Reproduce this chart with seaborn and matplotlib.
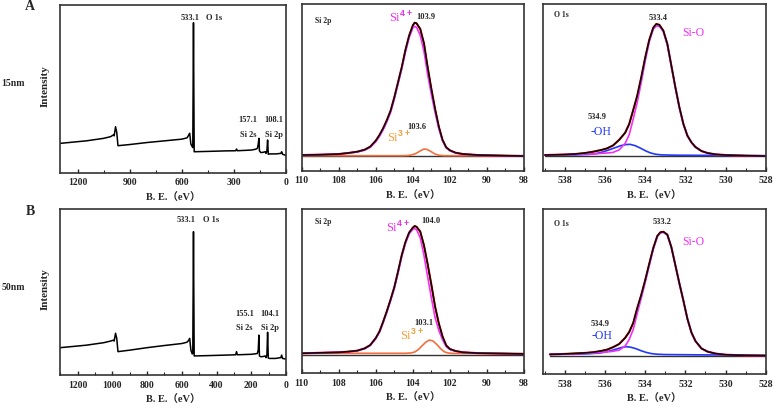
import matplotlib
matplotlib.use("Agg")
import matplotlib.pyplot as plt
import seaborn as sns
from matplotlib.ticker import MultipleLocator

sns.set_style("ticks")
plt.rcParams['font.family'] = ['Liberation Serif', 'Noto Sans CJK SC']
plt.rcParams['font.weight'] = 'bold'
plt.rcParams['mathtext.fontset'] = 'custom'
plt.rcParams['mathtext.rm'] = 'Liberation Sans'
plt.rcParams['mathtext.default'] = 'rm'

# ---------------- data (arbitrary intensity 0..1) ----------------
# survey spectra
survey_ev = [1300, 1150, 1050, 1010, 995, 990, 982, 975, 968, 900, 800, 700, 600, 570, 560, 555,
             548, 540, 537, 533, 529, 450, 350, 290, 285, 280, 200, 175, 165, 160, 156, 153,
             145, 130, 120, 115, 110, 106, 102, 95, 60, 30, 25, 20, 5, 0]
survey_15 = [0.175, 0.19, 0.205, 0.215, 0.225, 0.22, 0.274, 0.24, 0.161, 0.168, 0.18, 0.19, 0.2,
             0.208, 0.225, 0.235, 0.17, 0.155, 0.15, 0.894, 0.125, 0.127, 0.13, 0.131, 0.141,
             0.131, 0.135, 0.14, 0.145, 0.17, 0.205, 0.13, 0.12, 0.122, 0.125, 0.115, 0.13,
             0.195, 0.11, 0.112, 0.112, 0.115, 0.125, 0.11, 0.105, 0.1]
survey_50 = [0.165, 0.18, 0.195, 0.205, 0.21, 0.205, 0.252, 0.22, 0.141, 0.15, 0.165, 0.178, 0.19,
             0.198, 0.21, 0.221, 0.15, 0.127, 0.13, 0.865, 0.115, 0.117, 0.12, 0.122, 0.141,
             0.122, 0.125, 0.128, 0.13, 0.15, 0.241, 0.115, 0.11, 0.112, 0.115, 0.105, 0.12,
             0.258, 0.102, 0.1, 0.1, 0.105, 0.12, 0.1, 0.097, 0.095]

# Si 2p high resolution
si_ev = [110, 109, 108, 107.5, 107, 106.6, 106.3, 106.0, 105.8, 105.6, 105.4, 105.2, 105.0,
         104.8, 104.6, 104.4, 104.2, 104.0, 103.9, 103.8, 103.6, 103.4, 103.2, 103.0, 102.8,
         102.6, 102.4, 102.2, 102.0, 101.7, 101.3, 100.5, 99, 98]
si_env_15 = [0.094, 0.096, 0.1, 0.106, 0.114, 0.126, 0.144, 0.18, 0.214, 0.255, 0.304, 0.36,
             0.44, 0.53, 0.62, 0.724, 0.81, 0.872, 0.888, 0.884, 0.85, 0.764, 0.62, 0.49, 0.37,
             0.265, 0.185, 0.14, 0.122, 0.108, 0.1, 0.094, 0.09, 0.088]
si4_15 = [0.094, 0.096, 0.1, 0.105, 0.112, 0.123, 0.14, 0.174, 0.206, 0.246, 0.294, 0.35,
          0.43, 0.52, 0.61, 0.712, 0.798, 0.856, 0.866, 0.86, 0.812, 0.716, 0.576, 0.457, 0.35,
          0.253, 0.18, 0.137, 0.12, 0.106, 0.099, 0.093, 0.09, 0.088]
si3_ev_15 = [110, 104.6, 104.3, 104.1, 103.9, 103.7, 103.55, 103.4, 103.25, 103.1, 102.95, 102.8,
             102.6, 102.3, 98]
si3_15 = [0.09, 0.09, 0.091, 0.094, 0.1, 0.112, 0.122, 0.13, 0.128, 0.12, 0.11, 0.1, 0.093,
          0.09, 0.09]

si_env_50 = [0.122, 0.125, 0.128, 0.132, 0.138, 0.152, 0.172, 0.215, 0.255, 0.315, 0.38, 0.45,
             0.525, 0.62, 0.72, 0.8, 0.858, 0.888, 0.898, 0.893, 0.864, 0.78, 0.665, 0.54, 0.407,
             0.305, 0.225, 0.17, 0.148, 0.136, 0.128, 0.123, 0.12, 0.118]
si4_50 = [0.122, 0.125, 0.128, 0.131, 0.137, 0.15, 0.17, 0.212, 0.251, 0.31, 0.374, 0.444,
          0.518, 0.612, 0.712, 0.792, 0.85, 0.878, 0.882, 0.876, 0.826, 0.72, 0.588, 0.46, 0.34,
          0.262, 0.205, 0.163, 0.145, 0.135, 0.127, 0.123, 0.12, 0.118]
si3_ev_50 = [110, 104.4, 104.1, 103.9, 103.7, 103.5, 103.3, 103.1, 102.9, 102.7, 102.5, 102.3,
             102.1, 101.8, 98]
si3_50 = [0.122, 0.122, 0.124, 0.13, 0.145, 0.168, 0.19, 0.203, 0.196, 0.175, 0.15, 0.131,
          0.124, 0.121, 0.12]

# O 1s high resolution
o_ev_15 = [539, 538, 537.5, 537, 536.6, 536.2, 535.9, 535.6, 535.3, 535.0, 534.8, 534.6, 534.4,
           534.2, 534.0, 533.8, 533.6, 533.45, 533.3, 533.1, 532.9, 532.7, 532.5, 532.3, 532.1,
           531.9, 531.7, 531.5, 531.2, 530.9, 530.5, 530, 529, 528]
o_env_15 = [0.094, 0.097, 0.1, 0.106, 0.114, 0.124, 0.134, 0.152, 0.185, 0.228, 0.28, 0.364,
            0.45, 0.56, 0.68, 0.785, 0.858, 0.88, 0.875, 0.84, 0.76, 0.63, 0.5, 0.38, 0.28,
            0.21, 0.17, 0.142, 0.118, 0.106, 0.098, 0.094, 0.09, 0.088]
sio_15 = [0.094, 0.096, 0.098, 0.1, 0.1, 0.104, 0.106, 0.11, 0.125, 0.164, 0.216, 0.31, 0.41,
          0.53, 0.66, 0.775, 0.85, 0.868, 0.866, 0.835, 0.756, 0.627, 0.498, 0.378, 0.279,
          0.209, 0.169, 0.141, 0.117, 0.105, 0.097, 0.094, 0.09, 0.088]
oh_ev_15 = [539, 537.5, 536.8, 536.4, 536.1, 535.8, 535.5, 535.2, 534.95, 534.75, 534.5, 534.25,
            534.0, 533.75, 533.5, 533.2, 532.5, 528]
oh_15 = [0.094, 0.095, 0.098, 0.104, 0.113, 0.125, 0.138, 0.151, 0.157, 0.158, 0.15, 0.136,
         0.12, 0.107, 0.099, 0.095, 0.093, 0.09]

o_ev_50 = [538.75, 538, 537.5, 537, 536.6, 536.2, 535.9, 535.6, 535.3, 535.0, 534.8, 534.6,
           534.4, 534.2, 534.0, 533.8, 533.6, 533.4, 533.25, 533.1, 532.9, 532.7, 532.5, 532.3,
           532.1, 531.9, 531.7, 531.5, 531.2, 530.9, 530.5, 530, 529, 528]
o_env_50 = [0.119, 0.122, 0.125, 0.128, 0.132, 0.14, 0.148, 0.163, 0.182, 0.22, 0.255, 0.31,
            0.4, 0.48, 0.571, 0.67, 0.765, 0.838, 0.86, 0.864, 0.846, 0.77, 0.66, 0.55, 0.445,
            0.335, 0.252, 0.2, 0.155, 0.136, 0.124, 0.117, 0.113, 0.111]
sio_50 = [0.119, 0.121, 0.123, 0.125, 0.127, 0.131, 0.134, 0.138, 0.145, 0.17, 0.21, 0.27,
          0.368, 0.46, 0.558, 0.66, 0.758, 0.834, 0.856, 0.86, 0.844, 0.77, 0.66, 0.55, 0.445,
          0.335, 0.252, 0.2, 0.155, 0.136, 0.124, 0.117, 0.113, 0.111]
oh_ev_50 = [538.75, 537.5, 536.8, 536.3, 536.0, 535.7, 535.4, 535.15, 534.93, 534.7, 534.45,
            534.2, 533.95, 533.7, 533.4, 533.0, 531, 528]
oh_50 = [0.119, 0.12, 0.123, 0.127, 0.133, 0.142, 0.153, 0.162, 0.166, 0.162, 0.153, 0.141,
         0.131, 0.124, 0.12, 0.118, 0.116, 0.114]

bg_15 = [0.086, 0.086]
bg_50 = [0.112, 0.112]

MAG = '#F032F0'
ORG = '#F26F3E'
ORG_T = '#F0A03C'
BLU = '#2238F5'

W, H = 774, 411
fig = plt.figure(figsize=(W / 100, H / 100), dpi=100)


def add_ax(x0, x1, y0, y1):
    ax = fig.add_axes([x0 / W, 1 - y1 / H, (x1 - x0) / W, (y1 - y0) / H])
    for s in ax.spines.values():
        s.set_linewidth(1.2)
        s.set_color('#333333')
    ax.set_ylim(0, 1)
    ax.set_yticks([])
    ax.tick_params(axis='x', direction='in', length=3, width=1, labelsize=7, pad=4)
    ax.tick_params(axis='x', which='minor', direction='in', length=2, width=0.8)
    return ax


def line(ax, x, y, color, lw=1.3):
    sns.lineplot(x=x, y=y, ax=ax, color=color, lw=lw, estimator=None, legend=False)


def xlab(ax):
    ax.set_xlabel('B. E.（eV）', fontsize=7.5, fontweight='bold', labelpad=4)
    ax.set_ylabel('')


def txt(ax, x, y, s, **kw):
    kw.setdefault('fontsize', 6)
    kw.setdefault('fontweight', 'bold')
    ax.text(x, y, s, transform=ax.transData, ha='center', va='center', **kw)


rows = [
    dict(y0=5, y1=172.7, ym0=4, ym1=170.7, yr1=170.7, survey=survey_15, tickstep=300,
         si=(si_ev, si_env_15, si4_15, si3_ev_15, si3_15, bg_15),
         o=(o_ev_15, o_env_15, sio_15, oh_ev_15, oh_15, bg_15),
         tag='A', size='15nm', labs=('157.1', '108.1', '103.9', '103.6', '533.4')),
    dict(y0=209.3, y1=375, ym0=209.3, ym1=373.3, yr1=374, survey=survey_50, tickstep=200,
         si=(si_ev, si_env_50, si4_50, si3_ev_50, si3_50, bg_50),
         o=(o_ev_50, o_env_50, sio_50, oh_ev_50, oh_50, bg_50),
         tag='B', size='50nm', labs=('155.1', '104.1', '104.0', '103.1', '533.2')),
]

for i, r in enumerate(rows):
    # survey
    ax = add_ax(60, 286, r['y0'], r['y1'])
    line(ax, survey_ev, r['survey'], 'black', 1.1)
    ax.set_xlim(1302, 0)
    ax.xaxis.set_major_locator(MultipleLocator(r['tickstep']))
    ax.xaxis.set_minor_locator(MultipleLocator(r['tickstep'] / 2))
    xlab(ax)
    if i == 0:
        txt(ax, 553, 0.92, '533.1')
        txt(ax, 415, 0.92, 'O 1s')
        txt(ax, 218, 0.314, r['labs'][0])
        txt(ax, 218, 0.225, 'Si 2s')
        txt(ax, 68, 0.314, r['labs'][1])
        txt(ax, 68, 0.225, 'Si 2p')
    else:
        txt(ax, 573, 0.935, '533.1')
        txt(ax, 434, 0.935, 'O 1s')
        txt(ax, 240, 0.368, r['labs'][0])
        txt(ax, 240, 0.284, 'Si 2s')
        txt(ax, 90, 0.368, r['labs'][1])
        txt(ax, 90, 0.284, 'Si 2p')
    mid_y = 1 - ((r['y0'] + r['y1']) / 2 - 3) / H
    fig.text(45 / W, mid_y, 'Intensity', rotation=90, fontsize=8, fontweight='bold',
             ha='center', va='center')
    fig.text(30 / W, 1 - (r['y0'] + 2) / H, r['tag'], fontsize=10, fontweight='bold',
             ha='center', va='center')
    fig.text(13 / W, 1 - (r['y0'] + 78) / H, r['size'], fontsize=7, fontweight='bold',
             ha='center', va='center')

    # Si 2p
    ev, env, s4, ev3, s3, bg = r['si']
    ax = add_ax(301.7, 524, r['ym0'], r['ym1'])
    line(ax, [110, 98], bg, '#333333', 1.0)
    line(ax, ev3, s3, ORG, 1.2)
    line(ax, ev, env, 'red', 1.5)
    line(ax, ev, s4, MAG, 1.2)
    line(ax, ev, env, 'black', 1.1)
    ax.set_xlim(110, 98)
    ax.set_xticks([110, 108, 106, 104, 102, 100, 98])
    ax.set_xticklabels(['110', '108', '106', '104', '102', '90', '98'])
    ax.xaxis.set_minor_locator(MultipleLocator(1))
    xlab(ax)
    txt(ax, 108.85, 0.9 if i == 0 else 0.925, 'Si 2p', fontsize=5.5)
    if i == 0:
        txt(ax, 104.64, 0.92, 'Si$^{4+}$', color=MAG, fontsize=9, fontweight='normal')
        txt(ax, 103.29, 0.92, r['labs'][2])
        txt(ax, 104.75, 0.2, 'Si$^{3+}$', color=ORG_T, fontsize=9, fontweight='normal')
        txt(ax, 103.78, 0.262, r['labs'][3])
    else:
        txt(ax, 104.8, 0.892, 'Si$^{4+}$', color=MAG, fontsize=9, fontweight='normal')
        txt(ax, 103.02, 0.929, r['labs'][2])
        txt(ax, 103.4, 0.307, r['labs'][3])
        txt(ax, 104.05, 0.234, 'Si$^{3+}$', color=ORG_T, fontsize=9, fontweight='normal')

    # O 1s
    ev, env, so, evh, oh, bg = r['o']
    ax = add_ax(543.3, 765.7, r['ym0'], r['yr1'])
    line(ax, [ev[0], 528], bg, '#333333', 1.0)
    line(ax, evh, oh, BLU, 1.2)
    line(ax, ev, env, 'red', 1.5)
    line(ax, ev, so, MAG, 1.2)
    line(ax, ev, env, 'black', 1.1)
    ax.set_xlim(539.08, 528)
    ax.xaxis.set_major_locator(MultipleLocator(2))
    ax.xaxis.set_minor_locator(MultipleLocator(1))
    xlab(ax)
    txt(ax, 538.2, 0.935 if i == 0 else 0.91, 'O 1s', fontsize=5.5)
    if i == 0:
        txt(ax, 533.37, 0.916, r['labs'][4])
        txt(ax, 531.62, 0.826, 'Si-O', color=MAG, fontsize=8.5, fontweight='normal')
        txt(ax, 536.38, 0.322, '534.9')
        txt(ax, 536.2, 0.232, '-OH', color=BLU, fontsize=8.5, fontweight='normal')
    else:
        txt(ax, 533.17, 0.923, r['labs'][4])
        txt(ax, 531.62, 0.8, 'Si-O', color=MAG, fontsize=8.5, fontweight='normal')
        txt(ax, 536.26, 0.304, '534.9')
        txt(ax, 536.16, 0.231, '-OH', color=BLU, fontsize=8.5, fontweight='normal')

fig.savefig('out.png', dpi=100)
